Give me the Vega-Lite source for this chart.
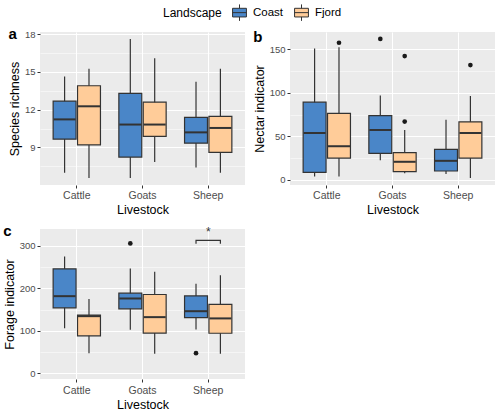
{
  "$schema": "https://vega.github.io/schema/vega-lite/v6.json",
  "padding": {"left": 3, "top": 3, "right": 2, "bottom": 2},
  "datasets": {
    "a": [
      {"Livestock": "Cattle", "Landscape": "Coast", "lower": 7.0, "q1": 9.66, "median": 11.23, "q3": 12.68, "upper": 14.64},
      {"Livestock": "Cattle", "Landscape": "Fjord", "lower": 6.57, "q1": 9.2, "median": 12.27, "q3": 13.9, "upper": 15.26},
      {"Livestock": "Goats", "Landscape": "Coast", "lower": 6.57, "q1": 8.24, "median": 10.82, "q3": 13.3, "upper": 17.62},
      {"Livestock": "Goats", "Landscape": "Fjord", "lower": 7.84, "q1": 9.88, "median": 10.82, "q3": 12.6, "upper": 16.09},
      {"Livestock": "Sheep", "Landscape": "Coast", "lower": 7.4, "q1": 9.34, "median": 10.2, "q3": 11.39, "upper": 14.21},
      {"Livestock": "Sheep", "Landscape": "Fjord", "lower": 7.0, "q1": 8.61, "median": 10.55, "q3": 11.47, "upper": 15.26}
    ],
    "b": [
      {"Livestock": "Cattle", "Landscape": "Coast", "lower": 3.9, "q1": 8.6, "median": 53.8, "q3": 89.3, "upper": 151},
      {"Livestock": "Cattle", "Landscape": "Fjord", "lower": 3.9, "q1": 25, "median": 38.6, "q3": 76.4, "upper": 152.4},
      {"Livestock": "Goats", "Landscape": "Coast", "lower": 22.6, "q1": 30.4, "median": 57.3, "q3": 73.7, "upper": 97},
      {"Livestock": "Goats", "Landscape": "Fjord", "lower": 7.4, "q1": 9.4, "median": 20.7, "q3": 31.2, "upper": 57.3},
      {"Livestock": "Sheep", "Landscape": "Coast", "lower": 6.6, "q1": 10.1, "median": 21.8, "q3": 35, "upper": 69},
      {"Livestock": "Sheep", "Landscape": "Fjord", "lower": 2, "q1": 25, "median": 53.8, "q3": 66.7, "upper": 96.3}
    ],
    "b_out": [
      {"Livestock": "Cattle", "Landscape": "Fjord", "value": 157.6},
      {"Livestock": "Goats", "Landscape": "Coast", "value": 162},
      {"Livestock": "Goats", "Landscape": "Fjord", "value": 142.3},
      {"Livestock": "Goats", "Landscape": "Fjord", "value": 67},
      {"Livestock": "Sheep", "Landscape": "Fjord", "value": 132}
    ],
    "c": [
      {"Livestock": "Cattle", "Landscape": "Coast", "lower": 106, "q1": 154, "median": 181.5, "q3": 245.9, "upper": 275},
      {"Livestock": "Cattle", "Landscape": "Fjord", "lower": 47, "q1": 88, "median": 134.3, "q3": 136.7, "upper": 175},
      {"Livestock": "Goats", "Landscape": "Coast", "lower": 102, "q1": 151.6, "median": 176, "q3": 188.5, "upper": 247},
      {"Livestock": "Goats", "Landscape": "Fjord", "lower": 45.6, "q1": 94.3, "median": 132, "q3": 185.4, "upper": 239},
      {"Livestock": "Sheep", "Landscape": "Coast", "lower": 103, "q1": 131, "median": 146, "q3": 182, "upper": 211},
      {"Livestock": "Sheep", "Landscape": "Fjord", "lower": 45.6, "q1": 94, "median": 129, "q3": 162, "upper": 231}
    ],
    "c_out": [
      {"Livestock": "Goats", "Landscape": "Coast", "value": 306},
      {"Livestock": "Sheep", "Landscape": "Coast", "value": 47}
    ],
    "c_bracket": [
      {"Livestock": "Sheep", "Landscape": "Coast", "y": 305, "order": 1},
      {"Livestock": "Sheep", "Landscape": "Coast", "y": 313, "order": 2},
      {"Livestock": "Sheep", "Landscape": "Fjord", "y": 313, "order": 3},
      {"Livestock": "Sheep", "Landscape": "Fjord", "y": 305, "order": 4}
    ],
    "c_star": [
      {"Livestock": "Sheep", "y": 332, "label": "*"}
    ]
  },
  "vconcat": [
    {
      "hconcat": [
        {
          "width": 205,
          "height": 153,
          "title": {"text": "a", "anchor": "start", "frame": "bounds", "fontSize": 15, "fontWeight": "bold", "color": "#000000", "offset": -13},
          "layer": [
            {
              "data": {"name": "a"},
              "mark": {"type": "rule", "color": "#333333", "strokeWidth": 1.2},
              "encoding": {
                "x": {"field": "Livestock", "type": "nominal", "title": "Livestock", "scale": {"paddingInner": 0.28, "paddingOuter": 0.2}, "axis": {"labelAngle": 0, "bandPosition": 0.5, "grid": true, "gridWidth": 1}},
                "xOffset": {"field": "Landscape", "type": "nominal", "scale": {"paddingInner": 0.06}},
                "y": {"field": "lower", "type": "quantitative", "title": "Species richness", "scale": {"domain": [6.02, 18.17], "nice": false, "zero": false},
                  "axis": {"values": [7.5, 9, 10.5, 12, 13.5, 15, 16.5, 18], "tickCount": 20, "labelOverlap": false, "labelExpr": "abs(datum.value % 3) < 0.001 ? format(datum.value, 'd') : ''", "gridWidth": {"condition": {"test": "abs(datum.value % 3) > 0.001", "value": 0.5}, "value": 1.1}, "tickOpacity": {"condition": {"test": "abs(datum.value % 3) > 0.001", "value": 0}, "value": 1}}},
                "y2": {"field": "upper"}
              }
            },
            {
              "data": {"name": "a"},
              "mark": {"type": "bar", "stroke": "#333333", "strokeWidth": 1.2, "opacity": 1},
              "encoding": {
                "x": {"field": "Livestock", "type": "nominal", "title": "Livestock"},
                "xOffset": {"field": "Landscape", "type": "nominal"},
                "y": {"field": "q1", "type": "quantitative", "title": "Species richness"},
                "y2": {"field": "q3"},
                "fill": {"field": "Landscape", "type": "nominal", "title": "Landscape", "scale": {"domain": ["Coast", "Fjord"], "range": ["#4A86C8", "#FFCC99"]}, "legend": {"title": "Landscape", "orient": "none", "legendX": 123, "legendY": -29}}
              }
            },
            {
              "data": {"name": "a"},
              "mark": {"type": "tick", "color": "#333333", "thickness": 2, "size": 22, "opacity": 1},
              "encoding": {
                "x": {"field": "Livestock", "type": "nominal", "title": "Livestock"},
                "xOffset": {"field": "Landscape", "type": "nominal"},
                "y": {"field": "median", "type": "quantitative", "title": "Species richness"}
              }
            }
          ]
        },
        {
          "width": 205,
          "height": 153,
          "title": {"text": "b", "anchor": "start", "frame": "bounds", "fontSize": 15, "fontWeight": "bold", "color": "#000000", "offset": -13},
          "layer": [
            {
              "data": {"name": "b"},
              "mark": {"type": "rule", "color": "#333333", "strokeWidth": 1.2},
              "encoding": {
                "x": {"field": "Livestock", "type": "nominal", "title": "Livestock", "scale": {"paddingInner": 0.28, "paddingOuter": 0.2}, "axis": {"labelAngle": 0, "bandPosition": 0.5, "grid": true, "gridWidth": 1}},
                "xOffset": {"field": "Landscape", "type": "nominal", "scale": {"paddingInner": 0.06}},
                "y": {"field": "lower", "type": "quantitative", "title": "Nectar indicator", "scale": {"domain": [-6, 170], "nice": false, "zero": false},
                  "axis": {"values": [0, 25, 50, 75, 100, 125, 150], "tickCount": 20, "labelOverlap": false, "labelExpr": "datum.value % 50 === 0 ? format(datum.value, 'd') : ''", "gridWidth": {"condition": {"test": "datum.value % 50 !== 0", "value": 0.5}, "value": 1.1}, "tickOpacity": {"condition": {"test": "datum.value % 50 !== 0", "value": 0}, "value": 1}}},
                "y2": {"field": "upper"}
              }
            },
            {
              "data": {"name": "b"},
              "mark": {"type": "bar", "stroke": "#333333", "strokeWidth": 1.2, "opacity": 1},
              "encoding": {
                "x": {"field": "Livestock", "type": "nominal", "title": "Livestock"},
                "xOffset": {"field": "Landscape", "type": "nominal"},
                "y": {"field": "q1", "type": "quantitative", "title": "Nectar indicator"},
                "y2": {"field": "q3"},
                "fill": {"field": "Landscape", "type": "nominal", "title": "Landscape"}
              }
            },
            {
              "data": {"name": "b"},
              "mark": {"type": "tick", "color": "#333333", "thickness": 2, "size": 22, "opacity": 1},
              "encoding": {
                "x": {"field": "Livestock", "type": "nominal", "title": "Livestock"},
                "xOffset": {"field": "Landscape", "type": "nominal"},
                "y": {"field": "median", "type": "quantitative", "title": "Nectar indicator"}
              }
            },
            {
              "data": {"name": "b_out"},
              "mark": {"type": "point", "filled": true, "color": "#1A1A1A", "size": 22, "opacity": 1},
              "encoding": {
                "x": {"field": "Livestock", "type": "nominal", "title": "Livestock"},
                "xOffset": {"field": "Landscape", "type": "nominal"},
                "y": {"field": "value", "type": "quantitative", "title": "Nectar indicator"}
              }
            }
          ]
        }
      ],
      "spacing": 8
    },
    {
      "width": 205,
      "height": 150,
      "title": {"text": "c", "anchor": "start", "frame": "bounds", "fontSize": 15, "fontWeight": "bold", "color": "#000000", "offset": -13},
      "layer": [
        {
          "data": {"name": "c"},
          "mark": {"type": "rule", "color": "#333333", "strokeWidth": 1.2},
          "encoding": {
            "x": {"field": "Livestock", "type": "nominal", "title": "Livestock", "scale": {"paddingInner": 0.28, "paddingOuter": 0.2}, "axis": {"labelAngle": 0, "bandPosition": 0.5, "grid": true, "gridWidth": 1, "labelPadding": 3}},
            "xOffset": {"field": "Landscape", "type": "nominal", "scale": {"paddingInner": 0.06}},
            "y": {"field": "lower", "type": "quantitative", "title": "Forage indicator", "scale": {"domain": [-14, 340], "nice": false, "zero": false},
              "axis": {"values": [0, 50, 100, 150, 200, 250, 300], "tickCount": 20, "labelOverlap": false, "labelExpr": "datum.value % 100 === 0 ? format(datum.value, 'd') : ''", "gridWidth": {"condition": {"test": "datum.value % 100 !== 0", "value": 0.5}, "value": 1.1}, "tickOpacity": {"condition": {"test": "datum.value % 100 !== 0", "value": 0}, "value": 1}}},
            "y2": {"field": "upper"}
          }
        },
        {
          "data": {"name": "c"},
          "mark": {"type": "bar", "stroke": "#333333", "strokeWidth": 1.2, "opacity": 1},
          "encoding": {
            "x": {"field": "Livestock", "type": "nominal", "title": "Livestock"},
            "xOffset": {"field": "Landscape", "type": "nominal"},
            "y": {"field": "q1", "type": "quantitative", "title": "Forage indicator"},
            "y2": {"field": "q3"},
            "fill": {"field": "Landscape", "type": "nominal", "title": "Landscape"}
          }
        },
        {
          "data": {"name": "c"},
          "mark": {"type": "tick", "color": "#333333", "thickness": 2, "size": 22, "opacity": 1},
          "encoding": {
            "x": {"field": "Livestock", "type": "nominal", "title": "Livestock"},
            "xOffset": {"field": "Landscape", "type": "nominal"},
            "y": {"field": "median", "type": "quantitative", "title": "Forage indicator"}
          }
        },
        {
          "data": {"name": "c_out"},
          "mark": {"type": "point", "filled": true, "color": "#1A1A1A", "size": 22, "opacity": 1},
          "encoding": {
            "x": {"field": "Livestock", "type": "nominal", "title": "Livestock"},
            "xOffset": {"field": "Landscape", "type": "nominal"},
            "y": {"field": "value", "type": "quantitative", "title": "Forage indicator"}
          }
        },
        {
          "data": {"name": "c_bracket"},
          "mark": {"type": "line", "color": "#333333", "strokeWidth": 1.2},
          "encoding": {
            "x": {"field": "Livestock", "type": "nominal", "title": "Livestock"},
            "xOffset": {"field": "Landscape", "type": "nominal"},
            "y": {"field": "y", "type": "quantitative", "title": "Forage indicator"},
            "order": {"field": "order", "type": "quantitative"}
          }
        },
        {
          "data": {"name": "c_star"},
          "mark": {"type": "text", "color": "#333333", "fontSize": 12, "baseline": "middle", "align": "center"},
          "encoding": {
            "x": {"field": "Livestock", "type": "nominal", "title": "Livestock"},
            "y": {"field": "y", "type": "quantitative", "title": "Forage indicator"},
            "text": {"field": "label", "type": "nominal"}
          }
        }
      ]
    }
  ],
  "spacing": 8,
  "config": {
    "font": "Liberation Sans",
    "view": {"fill": "#EBEBEB", "stroke": null},
    "axis": {"domain": false, "labelColor": "#4D4D4D", "tickColor": "#333333", "tickSize": 3, "titleFontSize": 12.5, "titleFontWeight": "normal", "titleColor": "#000000", "gridColor": "#FFFFFF", "labelPadding": 2, "titlePadding": 3},
    "axisX": {"labelFontSize": 10.5},
    "axisY": {"labelFontSize": 9.5},
    "legend": {"direction": "horizontal", "titleOrient": "left", "titleFontSize": 12, "titleFontWeight": "normal", "titleColor": "#000000", "labelFontSize": 11.5, "labelColor": "#000000", "symbolType": "M-0.8,-0.5H0.8V0.5H-0.8Z M-0.8,0H0.8 M0,-0.5V-0.95 M0,0.5V0.95", "symbolSize": 300, "symbolStrokeColor": "#333333", "symbolStrokeWidth": 1, "symbolOpacity": 1, "columnPadding": 8, "titlePadding": 8}
  }
}
